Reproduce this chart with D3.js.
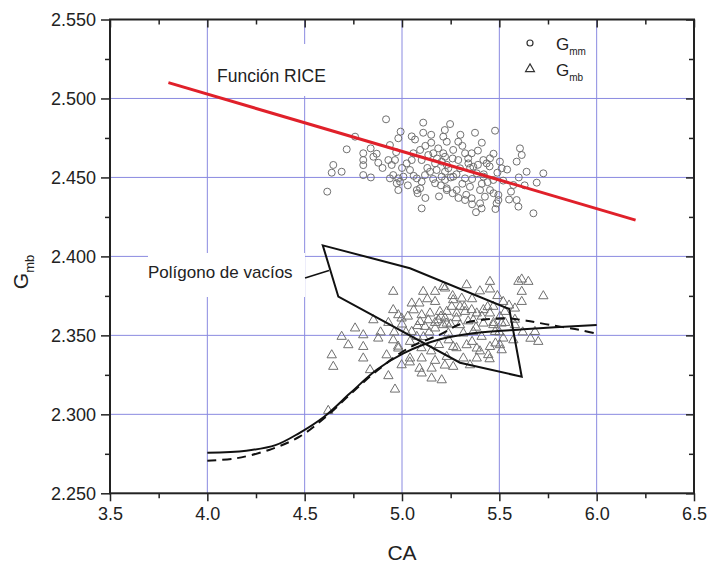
<!DOCTYPE html>
<html>
<head>
<meta charset="utf-8">
<script src="https://cdn.jsdelivr.net/npm/d3@7"></script>
<style>
  body { margin: 0; background: #fff; }
  text { font-family: Arial, "Liberation Sans", sans-serif; fill: #222; }
</style>
</head>
<body>
<div id="chart"></div>
<script>
// Gmm points (circles): CA values and Gmm values
var gmmX = [4.918, 5.109, 4.993, 5.109, 5.05, 5.067, 4.759, 4.981, 4.938, 4.716, 4.839, 4.801, 4.853, 4.878, 4.801, 4.801,
  4.647, 4.639, 4.690, 4.801, 4.616, 4.930, 4.964, 4.947, 4.955, 4.938, 4.981, 4.973, 4.990, 4.981, 5.007, 5.076,
  5.101, 5.093, 5.076, 5.118, 5.144, 5.041, 5.024, 5.050, 5.101, 5.058, 5.093, 5.135, 5.161, 5.186, 5.212, 5.204,
  5.170, 5.178, 5.221, 5.221, 5.170, 5.230, 5.101, 5.247, 5.375, 5.478, 5.212, 5.230, 5.289, 5.263, 5.324, 5.358,
  5.221, 5.289, 5.341, 5.418, 5.452, 5.435, 5.238, 5.298, 5.366, 5.204, 5.263, 5.324, 5.384, 5.418, 5.469, 5.503,
  5.512, 5.606, 5.615, 5.589, 5.640, 5.726, 5.572, 5.692, 5.230, 5.281, 5.349, 5.401, 5.452, 5.495, 5.426, 5.324,
  5.358, 5.401, 5.409, 5.495, 5.589, 5.598, 5.675, 5.486,
  5.12, 5.15, 5.18, 5.23, 5.26, 5.31, 5.34, 5.28, 5.31, 5.36, 5.39, 5.42, 5.45, 5.47, 5.39, 5.26, 5.29, 5.33, 5.36,
  5.41, 5.44, 5.47, 5.52, 5.54, 5.49, 5.20, 5.16, 5.13, 5.06, 5.03, 5.00, 4.97, 4.90, 4.87, 4.84, 5.08, 5.12, 5.19,
  5.25, 5.35, 5.41, 5.30, 5.22, 5.15, 5.56, 5.60, 5.63, 5.48, 5.55, 5.38]
var gmmY = [2.4868, 2.4847, 2.479, 2.4783, 2.476, 2.474, 2.4758, 2.4748, 2.4705, 2.4678, 2.4684, 2.4653, 2.4631, 2.4593, 2.461, 2.4578,
  2.4579, 2.453, 2.4536, 2.4515, 2.441, 2.461, 2.461, 2.4579, 2.4515, 2.4494, 2.4494, 2.4463, 2.4473, 2.442, 2.4505, 2.4494,
  2.4473, 2.4431, 2.442, 2.4515, 2.4536, 2.4547, 2.4589, 2.461, 2.461, 2.4653, 2.4674, 2.4642, 2.4653, 2.4684, 2.4653, 2.460,
  2.4589, 2.4547, 2.4536, 2.4484, 2.4463, 2.442, 2.4304, 2.4838, 2.4783, 2.4796, 2.4758, 2.4726, 2.4726, 2.4674, 2.4653, 2.4653,
  2.4631, 2.461, 2.4589, 2.461, 2.4621, 2.4589, 2.4558, 2.4558, 2.4568, 2.4505, 2.4505, 2.4494, 2.4526, 2.4505, 2.4484, 2.460,
  2.4558, 2.4684, 2.4642, 2.460, 2.4536, 2.4526, 2.4452, 2.4467, 2.4431, 2.442, 2.4441, 2.442, 2.442, 2.4389, 2.4378, 2.4357,
  2.4368, 2.4336, 2.4304, 2.4357, 2.4357, 2.4315, 2.4273, 2.4336,
  2.470, 2.472, 2.462, 2.458, 2.462, 2.470, 2.462, 2.452, 2.446, 2.449, 2.458, 2.452, 2.457, 2.465, 2.467, 2.440, 2.437, 2.439, 2.433,
  2.446, 2.447, 2.440, 2.448, 2.455, 2.453, 2.445, 2.449, 2.456, 2.451, 2.445, 2.456, 2.466, 2.456, 2.465, 2.450, 2.440, 2.437, 2.438,
  2.450, 2.456, 2.472, 2.477, 2.480, 2.477, 2.441, 2.450, 2.445, 2.430, 2.436, 2.428]

// Gmb points (triangles)
var gmbX = [4.955, 5.109, 5.170, 5.221, 5.050, 5.089, 5.170, 4.955, 4.981, 4.998, 4.853, 5.101, 5.144, 5.195, 5.093, 5.135,
  5.186, 5.221, 5.118, 5.170, 5.212, 4.759, 4.690, 4.801, 4.878, 4.955, 5.050, 5.041, 5.076, 4.724, 4.801, 4.639,
  4.801, 4.647, 4.921, 4.981, 5.041, 5.101, 4.998, 4.836, 4.930, 5.101, 5.152, 5.152, 5.204, 4.964, 4.621,
  5.332, 5.452, 5.452, 5.615, 5.598, 5.649, 5.615, 5.615, 5.726, 5.520, 5.580, 5.212, 5.263, 5.307, 5.255, 5.298,
  5.230, 5.281, 5.324, 5.358, 5.384, 5.418, 5.452, 5.469, 5.503, 5.529, 5.230, 5.298, 5.366, 5.418, 5.469, 5.512,
  5.580, 5.238, 5.315, 5.366, 5.409, 5.478, 5.520, 5.572, 5.683, 5.700, 5.263, 5.332, 5.384, 5.452, 5.503, 5.512,
  5.230, 5.315, 5.384, 5.443, 5.263, 5.349,
  5.00, 5.03, 5.06, 5.02, 5.08, 5.11, 5.14, 5.17, 5.20, 5.25, 5.28, 5.32, 5.34, 5.38, 5.41, 5.44, 5.47, 5.50, 5.53,
  5.55, 5.10, 5.15, 5.19, 5.24, 5.28, 5.36, 5.40, 5.45, 5.48, 4.96, 4.93, 4.98, 5.04, 5.09, 5.17, 5.22, 5.13, 5.26,
  5.36, 5.40, 5.58, 5.62, 5.66, 5.49, 4.89]
var gmbY = [2.3777, 2.3777, 2.3777, 2.3798, 2.3703, 2.3703, 2.3713, 2.3661, 2.3629, 2.3608, 2.3597, 2.3629, 2.364, 2.365, 2.3586, 2.3597,
  2.3597, 2.3608, 2.3555, 2.3545, 2.3566, 2.3545, 2.3492, 2.3502, 2.3481, 2.347, 2.3523, 2.346, 2.3492, 2.3439, 2.3428, 2.3375,
  2.3355, 2.3302, 2.3375, 2.3418, 2.3355, 2.3355, 2.3312, 2.3281, 2.3243, 2.326, 2.3291, 2.3228, 2.3217, 2.3158, 2.3023,
  2.3819, 2.384, 2.3792, 2.3855, 2.384, 2.384, 2.3777, 2.3713, 2.3749, 2.3713, 2.3671, 2.3808, 2.3724, 2.3734, 2.3682, 2.3682,
  2.365, 2.364, 2.365, 2.3661, 2.364, 2.3661, 2.364, 2.3682, 2.3618, 2.365, 2.3576, 2.3566, 2.3597, 2.3576, 2.3566, 2.3576,
  2.3566, 2.3513, 2.3513, 2.3523, 2.3492, 2.3523, 2.3481, 2.347, 2.3523, 2.346, 2.3428, 2.3439, 2.3418, 2.3428, 2.3439, 2.3407,
  2.3365, 2.3355, 2.3355, 2.3376, 2.3302, 2.3312,
  2.357, 2.362, 2.366, 2.352, 2.356, 2.349, 2.352, 2.358, 2.362, 2.357, 2.361, 2.368, 2.359, 2.355, 2.362, 2.368, 2.358, 2.352, 2.358,
  2.369, 2.342, 2.340, 2.344, 2.347, 2.342, 2.346, 2.340, 2.335, 2.345, 2.352, 2.358, 2.343, 2.333, 2.329, 2.334, 2.331, 2.373, 2.375,
  2.373, 2.378, 2.360, 2.352, 2.348, 2.375, 2.352]

// RICE line end points
var riceX = [3.8, 6.2]
var riceY = [2.510, 2.423]

// void polygon (closed)
var polyX = [4.593, 5.041, 5.551, 5.615, 5.298, 4.673]
var polyY = [2.407, 2.3925, 2.3667, 2.3238, 2.3327, 2.3745]

// solid curve
var solidX = [4.0, 4.2, 4.35, 4.47, 4.60, 4.733, 4.87, 5.007, 5.195, 5.366, 5.623, 6.0]
var solidY = [2.2757, 2.2770, 2.2805, 2.2880, 2.2985, 2.3133, 2.3282, 2.3386, 2.3475, 2.3513, 2.3538, 2.3566]

// dashed curve
var dashX = [4.0, 4.15, 4.33, 4.476, 4.60, 4.733, 4.87, 5.041, 5.195, 5.298, 5.435, 5.538, 5.640, 5.760, 5.914, 6.0]
var dashY = [2.2706, 2.2722, 2.2780, 2.2860, 2.2975, 2.3125, 2.3275, 2.3425, 2.3505, 2.3570, 2.3602, 2.3608, 2.3593, 2.3566, 2.3534, 2.351]

var xMajor = [3.5, 4.0, 4.5, 5.0, 5.5, 6.0, 6.5]
var xMinor = [3.75, 4.25, 4.75, 5.25, 5.75, 6.25]
var yMajor = [2.25, 2.30, 2.35, 2.40, 2.45, 2.50, 2.55]
var yMinor = [2.275, 2.325, 2.375, 2.425, 2.475, 2.525]

var W = 709, H = 563
var L = 110, R = 694, T = 19.5, B = 493.3

var svg = d3.select("#chart").append("svg")
    .attr("width", W).attr("height", H)

var x = d3.scaleLinear().domain([3.5, 6.5]).range([L, R])
var y = d3.scaleLinear().domain([2.25, 2.55]).range([B, T])

// grid lines
var grid = svg.append("g").attr("stroke", "#8a8ae0").attr("stroke-width", 1)
grid.selectAll("line.gx").data(xMajor.slice(1, -1)).enter().append("line")
    .attr("x1", d => x(d)).attr("x2", d => x(d)).attr("y1", T).attr("y2", B)
grid.selectAll("line.gy").data(yMajor.slice(1, -1)).enter().append("line")
    .attr("y1", d => y(d)).attr("y2", d => y(d)).attr("x1", L).attr("x2", R)

// white boxes behind the annotations
svg.append("rect").attr("x", x(4.0) + 1).attr("y", 44).attr("width", 120).attr("height", 52).attr("fill", "#fff")
svg.append("rect").attr("x", 148).attr("y", 253).attr("width", 157).attr("height", 44).attr("fill", "#fff")

// axes
function styleAxis(g) {
    g.select(".domain").remove()
    g.selectAll(".tick line").attr("stroke", "#222").attr("stroke-width", 1.5)
    g.selectAll(".tick text").attr("font-size", "18px").attr("fill", "#222")
        .attr("font-family", "Arial, 'Liberation Sans', sans-serif")
}

svg.append("g").attr("transform", "translate(0," + B + ")")
    .call(d3.axisBottom(x).tickValues(xMajor).tickSize(8).tickPadding(6).tickFormat(d3.format(".1f")))
    .call(styleAxis)
svg.append("g").attr("transform", "translate(0," + B + ")")
    .call(d3.axisBottom(x).tickValues(xMinor).tickSize(5).tickFormat(""))
    .call(styleAxis)
svg.append("g").attr("transform", "translate(" + L + ",0)")
    .call(d3.axisLeft(y).tickValues(yMajor).tickSize(9).tickPadding(5).tickFormat(d3.format(".3f")))
    .call(styleAxis)
svg.append("g").attr("transform", "translate(" + L + ",0)")
    .call(d3.axisLeft(y).tickValues(yMinor).tickSize(5).tickFormat(""))
    .call(styleAxis)
// top and right: inward ticks, no labels
svg.append("g").attr("transform", "translate(0," + T + ")")
    .call(d3.axisBottom(x).tickValues(xMajor).tickSize(8).tickFormat(""))
    .call(styleAxis)
svg.append("g").attr("transform", "translate(0," + T + ")")
    .call(d3.axisBottom(x).tickValues(xMinor).tickSize(5).tickFormat(""))
    .call(styleAxis)
svg.append("g").attr("transform", "translate(" + R + ",0)")
    .call(d3.axisLeft(y).tickValues(yMajor).tickSize(8).tickFormat(""))
    .call(styleAxis)
svg.append("g").attr("transform", "translate(" + R + ",0)")
    .call(d3.axisLeft(y).tickValues(yMinor).tickSize(5).tickFormat(""))
    .call(styleAxis)

// frame
svg.append("rect").attr("x", L).attr("y", T).attr("width", R - L).attr("height", B - T)
    .attr("fill", "none").attr("stroke", "#222").attr("stroke-width", 2)

// circles (Gmm)
var gmm = gmmX.map((d, i) => [d, gmmY[i]])
svg.append("g").selectAll("circle").data(gmm).enter().append("circle")
    .attr("cx", d => x(d[0])).attr("cy", d => y(d[1])).attr("r", 3.5)
    .attr("fill", "none").attr("stroke", "#707070").attr("stroke-width", 1)

// triangles (Gmb)
var gmb = gmbX.map((d, i) => [d, gmbY[i]])
var tri = d3.symbol().type(d3.symbolTriangle).size(38)
svg.append("g").selectAll("path").data(gmb).enter().append("path")
    .attr("d", tri)
    .attr("transform", d => "translate(" + x(d[0]) + "," + y(d[1]) + ")")
    .attr("fill", "none").attr("stroke", "#707070").attr("stroke-width", 1)

// RICE line
svg.append("line")
    .attr("x1", x(riceX[0])).attr("y1", y(riceY[0]))
    .attr("x2", x(riceX[1])).attr("y2", y(riceY[1]))
    .attr("stroke", "#e0202a").attr("stroke-width", 3)

// polygon
var poly = polyX.map((d, i) => [x(d), y(polyY[i])])
svg.append("path").attr("d", "M" + poly.join("L") + "Z")
    .attr("fill", "none").attr("stroke", "#111").attr("stroke-width", 2)

// curves
var line = d3.line().x(d => x(d[0])).y(d => y(d[1])).curve(d3.curveCatmullRom.alpha(0.5))
svg.append("path").attr("d", line(solidX.map((d, i) => [d, solidY[i]])))
    .attr("fill", "none").attr("stroke", "#111").attr("stroke-width", 2)
svg.append("path").attr("d", line(dashX.map((d, i) => [d, dashY[i]])))
    .attr("fill", "none").attr("stroke", "#111").attr("stroke-width", 2).attr("stroke-dasharray", "9,6")

// annotations
svg.append("text").attr("x", 217).attr("y", 82).attr("font-size", "17.5px").text("Función RICE")
svg.append("text").attr("x", 148).attr("y", 278).attr("font-size", "17px").text("Polígono de vacíos")
svg.append("line")
    .attr("x1", x(4.502)).attr("y1", y(2.3863)).attr("x2", x(4.625)).attr("y2", y(2.3911))
    .attr("stroke", "#111").attr("stroke-width", 1.5)

// legend
svg.append("circle").attr("cx", 530).attr("cy", 43).attr("r", 3)
    .attr("fill", "none").attr("stroke", "#333").attr("stroke-width", 1.2)
svg.append("path").attr("d", d3.symbol().type(d3.symbolTriangle).size(34))
    .attr("transform", "translate(530,69)")
    .attr("fill", "none").attr("stroke", "#333").attr("stroke-width", 1.2)
var lg1 = svg.append("text").attr("x", 556).attr("y", 50).attr("font-size", "17px")
lg1.append("tspan").text("G")
lg1.append("tspan").attr("font-size", "10px").attr("dy", 5).text("mm")
var lg2 = svg.append("text").attr("x", 556).attr("y", 76).attr("font-size", "17px")
lg2.append("tspan").text("G")
lg2.append("tspan").attr("font-size", "10px").attr("dy", 5).text("mb")

// axis titles
svg.append("text").attr("x", x(5.0)).attr("y", 560).attr("text-anchor", "middle")
    .attr("font-size", "21px").text("CA")
var yl = svg.append("text").attr("transform", "translate(28,272) rotate(-90)")
    .attr("text-anchor", "middle").attr("font-size", "21px")
yl.append("tspan").text("G")
yl.append("tspan").attr("font-size", "13px").attr("dy", 6).text("mb")
</script>
</body>
</html>
